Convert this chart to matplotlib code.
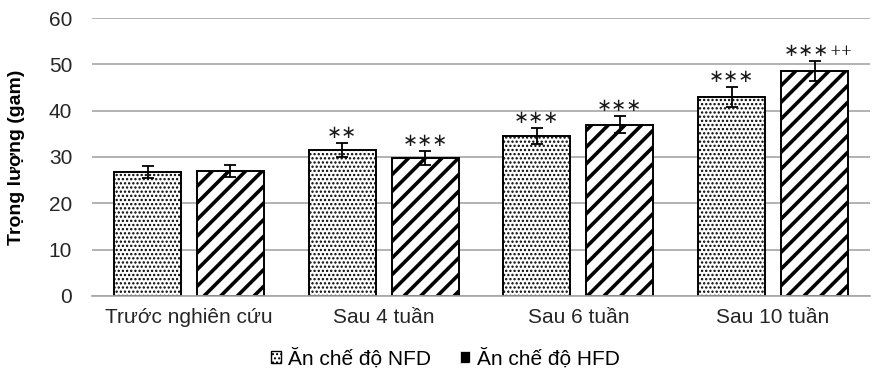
import matplotlib
matplotlib.use("Agg")
import matplotlib.pyplot as plt
from matplotlib.patches import Patch
import numpy as np

categories = ["Trước nghiên cứu", "Sau 4 tuần", "Sau 6 tuần", "Sau 10 tuần"]
nfd = [26.8, 31.5, 34.6, 42.9]
hfd = [26.9, 29.8, 37.0, 48.6]
nfd_err = [1.3, 1.6, 1.7, 2.2]
hfd_err = [1.3, 1.5, 1.8, 2.2]
nfd_marks = ["", "**", "***", "***"]
hfd_marks = ["", "***", "***", "***"]
hfd_sup = ["", "", "", "++"]
series_names = ["Ăn chế độ NFD", "Ăn chế độ HFD"]

plt.rcParams['font.family'] = ['Liberation Sans', 'DejaVu Sans']

fig = plt.figure(figsize=(8.73, 3.76), dpi=100)
ax = fig.add_axes([0.105, 0.213, 0.892, 0.739])

x = np.arange(len(categories))
w = 0.345
off = 0.213

with plt.rc_context({'hatch.linewidth': 1.1}):
    b1 = ax.bar(x - off, nfd, w, color='white', edgecolor='black',
                linewidth=1.4, hatch='....', label=series_names[0], zorder=2)
with plt.rc_context({'hatch.linewidth': 2.6}):
    b2 = ax.bar(x + off, hfd, w, color='white', edgecolor='black',
                linewidth=1.4, hatch='//', label=series_names[1], zorder=2)

ax.errorbar(x - off, nfd, yerr=nfd_err, fmt='none', ecolor='black',
            elinewidth=1.3, capsize=4, capthick=1.3, zorder=3)
ax.errorbar(x + off, hfd, yerr=hfd_err, fmt='none', ecolor='black',
            elinewidth=1.3, capsize=4, capthick=1.3, zorder=3)


def stars(s):
    return s.replace('*', '\u2217')


star_kw = dict(textcoords='offset points', ha='center', va='baseline',
               fontsize=13, family='DejaVu Sans', color='#1a1a1a')

for i in range(len(categories)):
    if nfd_marks[i]:
        ax.annotate(stars(nfd_marks[i]), xy=(x[i] - off, nfd[i] + nfd_err[i]),
                    xytext=(0, 3.5), **star_kw)
    if hfd_marks[i]:
        shift = -6 if hfd_sup[i] else 0
        t = ax.annotate(stars(hfd_marks[i]), xy=(x[i] + off, hfd[i] + hfd_err[i]),
                        xytext=(shift, 3.5), **star_kw)
        if hfd_sup[i]:
            ax.annotate(hfd_sup[i], xy=(1, 0), xycoords=t,
                        xytext=(0.5, 11.5), textcoords='offset points',
                        ha='left', va='top', fontsize=10, family='DejaVu Serif',
                        color='#1a1a1a')

ax.set_ylim(0, 60)
ax.set_xlim(-0.5, len(categories) - 0.5)
ax.set_yticks(range(0, 61, 10))
ax.set_xticks(x)
ax.set_xticklabels(categories, fontsize=15, color='#262626')
ax.tick_params(axis='y', labelsize=15, labelcolor='#262626', length=0, pad=14)
ax.tick_params(axis='x', length=0, pad=9)
ax.yaxis.grid(True, color='#a6a6a6', linewidth=1.2, zorder=0)
ax.set_axisbelow(True)
for s in ['top', 'right', 'left']:
    ax.spines[s].set_visible(False)
ax.spines['bottom'].set_color('#a6a6a6')
ax.spines['bottom'].set_linewidth(1.2)

ax.set_ylabel("Trọng lượng (gam)", fontsize=14, fontweight='bold')
ax.yaxis.set_label_coords(-0.085, 0.5)

# legend proxies: small squares like the original
with plt.rc_context({'hatch.linewidth': 1.0}):
    h1 = Patch(facecolor='white', edgecolor='black', hatch='....', linewidth=1.0)
with plt.rc_context({'hatch.linewidth': 1.6}):
    h2 = Patch(facecolor='black', edgecolor='white', hatch='/', linewidth=0.5)

fig.legend(handles=[h1, h2], labels=series_names, loc='lower center',
           bbox_to_anchor=(0.51, -0.03), ncol=2, frameon=False, fontsize=15,
           handlelength=0.5, handleheight=0.5, handletextpad=0.3,
           columnspacing=1.4)

fig.savefig("out.png", dpi=100)
